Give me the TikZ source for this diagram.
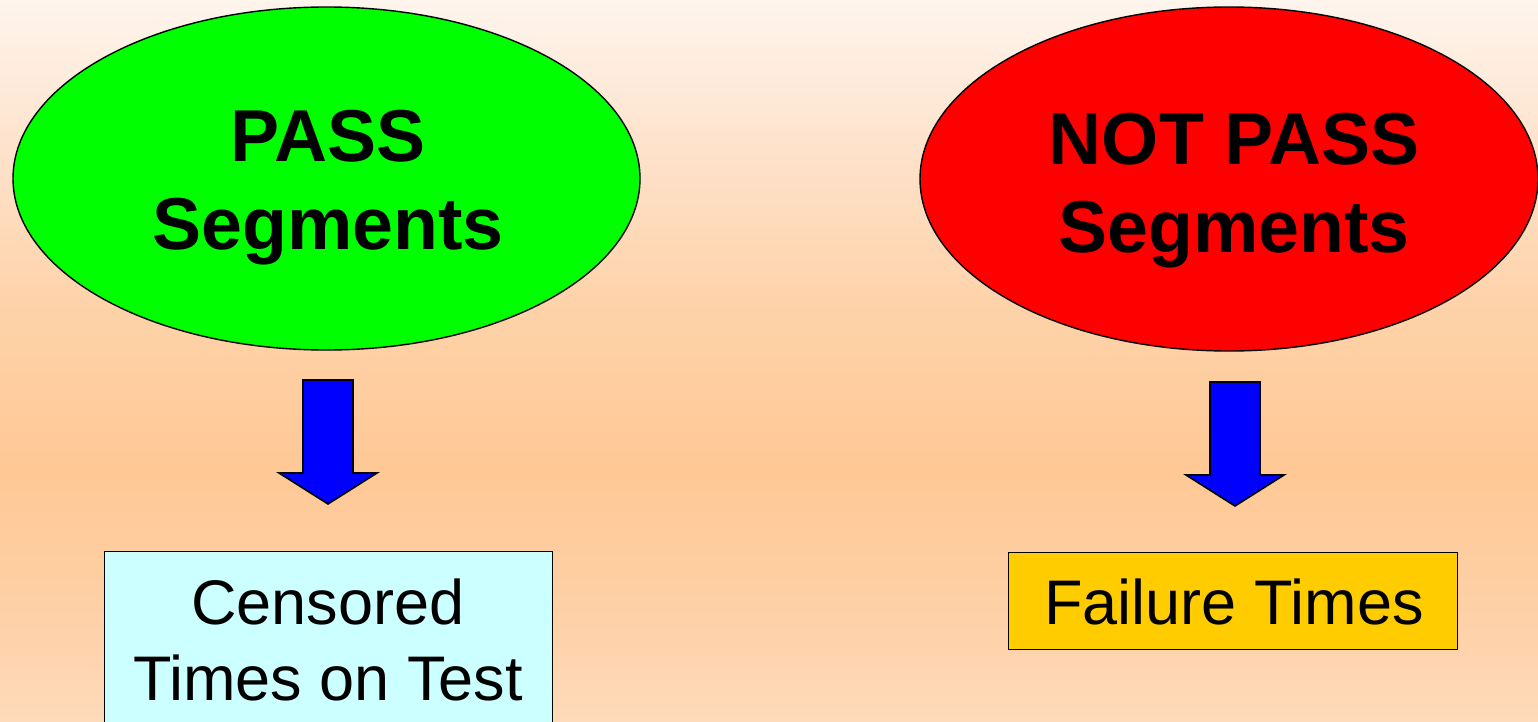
\documentclass[tikz,border=0pt]{standalone}
\usepackage{fontspec}
\setmainfont{Liberation Sans}
\usetikzlibrary{shapes.geometric}
\definecolor{bgA}{HTML}{FEF5ED}
\definecolor{bgB}{HTML}{FEE2CB}
\definecolor{bgC}{HTML}{FED3AA}
\definecolor{bgD}{HTML}{FFC895}
\definecolor{bgE}{HTML}{FED1A8}
\definecolor{bgF}{HTML}{FEDBBA}
\definecolor{passgreen}{HTML}{00FF00}
\definecolor{notred}{HTML}{FF0000}
\definecolor{arrowblue}{HTML}{0000FF}
\definecolor{censcyan}{HTML}{CCFFFF}
\definecolor{failgold}{HTML}{FFCC00}
\pgfdeclareverticalshading{bgshade}{100bp}{color(0bp)=(bgF); color(25bp)=(bgF); color(32bp)=(bgE); color(42.5bp)=(bgD); color(54.2bp)=(bgC); color(64.6bp)=(bgB); color(75bp)=(bgA); color(100bp)=(bgA)}
\tikzset{
  oval/.style={ellipse, draw=black, line width=1.4pt, inner sep=0pt},
  bigtxt/.style={font=\fontsize{73.5}{88}\selectfont\bfseries, align=center, anchor=base, inner sep=0pt},
  boxtxt/.style={font=\fontsize{63}{76}\selectfont, align=center, anchor=base, inner sep=0pt},
  resultbox/.style={draw=black, line width=1pt, inner sep=0pt},
  blockarrow/.style={fill=arrowblue, draw=black, line width=1.6pt, line join=miter}
}
\begin{document}
\begin{tikzpicture}[x=1pt,y=-1pt]
\clip (0,0) rectangle (1538,722);
\shade[shading=bgshade] (0,0) rectangle (1538,722);
% ellipses
\node[oval, fill=passgreen, minimum width=627pt, minimum height=343pt] (pass) at (326.5,178.5) {};
\node[oval, fill=notred, minimum width=618pt, minimum height=344pt] (notpass) at (1229,179) {};
\node[bigtxt] (passtxt) at (328,249) {PASS\\Segments};
\node[bigtxt] (notpasstxt) at (1234,252) {NOT PASS\\Segments};
% block arrows
\coordinate (a1) at (328,380);
\coordinate (a2) at (1235,382);
\foreach \c in {a1,a2}{
  \draw[blockarrow] ([xshift=-25pt]\c) -- ([xshift=25pt]\c) -- ([xshift=25pt,yshift=-93pt]\c) -- ([xshift=49pt,yshift=-93pt]\c)
    -- ([yshift=-124pt]\c) -- ([xshift=-49pt,yshift=-93pt]\c) -- ([xshift=-25pt,yshift=-93pt]\c) -- cycle;
}
% result boxes
\node[resultbox, fill=censcyan, minimum width=448pt, minimum height=220pt, anchor=north] (cens) at (328,551) {};
\node[boxtxt] (censtxt) at (328,700) {Censored\\Times on Test};
\node[resultbox, fill=failgold, minimum width=449pt, minimum height=97pt, anchor=north] (fail) at (1232.5,552) {};
\node[boxtxt] (failtxt) at (1234,624) {Failure Times};
\end{tikzpicture}
\end{document}
